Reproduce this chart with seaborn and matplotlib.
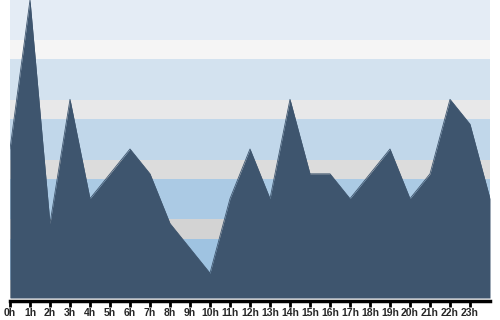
import matplotlib
matplotlib.use("Agg")
import matplotlib.pyplot as plt
import seaborn as sns
import numpy as np
import pandas as pd

hours = list(range(25))
tick_labels = [f"{h}h" for h in range(24)]
values = [6, 12, 3, 8, 4, 5, 6, 5, 3, 2, 1, 4, 6, 4, 8, 5, 5, 4, 5, 6, 4, 5, 8, 7, 4]

df = pd.DataFrame({"hour": hours, "value": values})

sns.set_style("white")
plt.rcParams["font.family"] = ["Liberation Sans", "DejaVu Sans"]
plt.rcParams["font.weight"] = "bold"
plt.rcParams["xtick.labelsize"] = 7.5
plt.rcParams["xtick.major.pad"] = 1

fig = plt.figure(figsize=(5, 3.2), dpi=100)
ax = fig.add_axes([10/500, (320-298)/320, 480/500, 298/320])

YMAX = 12.0
def pv(p):
    return YMAX * (298 - p) / 298

bands = [
    (0, 40, "#e4ecf5"), (40, 59, "#f5f5f5"), (59, 100, "#d3e2ef"),
    (100, 119, "#e8e8e9"), (119, 160, "#c1d7ea"), (160, 179, "#dcdcdc"),
    (179, 219, "#abcae4"), (219, 239, "#d3d3d3"), (239, 280, "#9fc3e1"),
    (280, 298, "#cacaca"),
]
for top, bot, c in bands:
    ax.axhspan(pv(bot), pv(top), color=c, lw=0, zorder=0)

area_color = "#3e556e"
ax.fill_between(df["hour"], df["value"], 0, color=area_color, lw=0, zorder=2)
sns.lineplot(data=df, x="hour", y="value", ax=ax, color=area_color, lw=0.6, zorder=3)

ax.set_xlim(0, 24)
ax.set_ylim(0, YMAX)
ax.set_xlabel("")
ax.set_ylabel("")
ax.set_yticks([])
ax.set_xticks(range(24), tick_labels, fontsize=7.5, fontweight="bold")
for s in ["top", "left", "right"]:
    ax.spines[s].set_visible(False)
ax.spines["bottom"].set_position(("outward", 2))
ax.spines["bottom"].set_linewidth(2.5)
ax.spines["bottom"].set_color("black")
ax.tick_params(axis="x", length=4, width=2, color="black", pad=1, direction="out",
               bottom=True, labelsize=7.5)

fig.savefig("out.png", dpi=100)
